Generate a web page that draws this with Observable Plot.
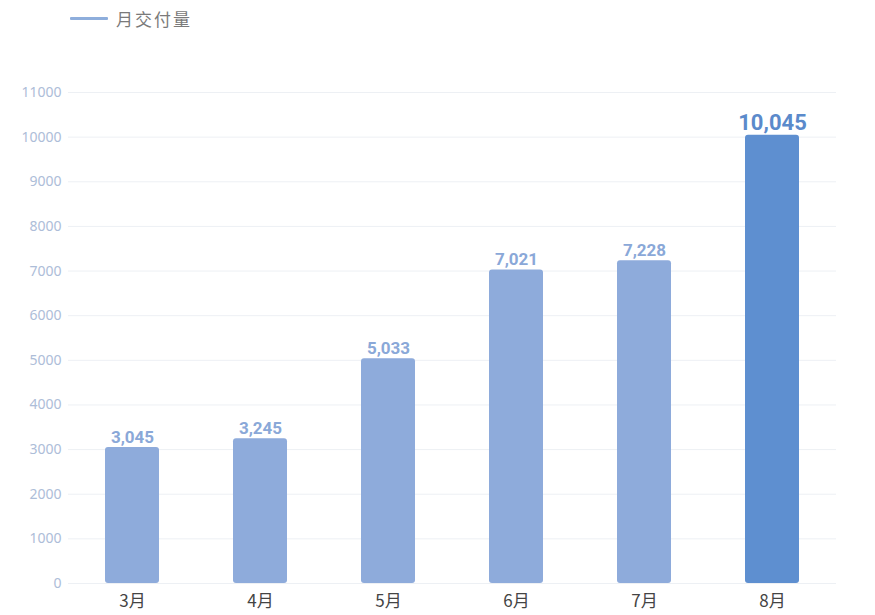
<!DOCTYPE html>
<html><head><meta charset="utf-8">
<script src="https://cdn.jsdelivr.net/npm/d3@7"></script>
<script src="https://cdn.jsdelivr.net/npm/@observablehq/plot@0.6"></script>
<style>
body{margin:0;background:#fff;font-family:"Noto Sans CJK SC","Noto Sans",sans-serif;}
#wrap{position:relative;width:875px;height:615px;}
#legend{position:absolute;left:70px;top:6px;display:flex;align-items:center;font-size:17px;letter-spacing:2px;color:#7a7a7a;}
#legend .sw{width:38px;height:3px;background:#8eaedc;margin-right:8px;border-radius:1px;}
#chart{position:absolute;left:0;top:0;}
</style></head>
<body>
<div id="wrap">
<div id="chart"></div>
<div id="legend"><span class="sw"></span><span>月交付量</span></div>
</div>
<script>
const months = ["3月","4月","5月","6月","7月","8月"];
const deliveries = [3045,3245,5033,7021,7228,10045];
const yTicks = [0,1000,2000,3000,4000,5000,6000,7000,8000,9000,10000,11000];
const highlightMonth = "8月";

const data = months.map((m,i)=>({month:m, value:deliveries[i]}));
const fmt = d3.format(",");

const chart = Plot.plot({
  width: 875, height: 615,
  marginTop: 92, marginBottom: 32, marginLeft: 68, marginRight: 39,
  style: {fontFamily: "'Noto Sans CJK SC','Noto Sans',sans-serif", background: "#fff"},
  x: {domain: months, paddingInner: 0.578, paddingOuter: 0.289, label: null},
  y: {domain: [0,11000], ticks: yTicks, label: null},
  marks: [
    Plot.gridY(yTicks, {stroke: "#edf0f4", strokeOpacity: 1, strokeWidth: 1}),
    Plot.barY(data, {x: "month", y: "value", fill: d => d.month === highlightMonth ? "#5e8fd0" : "#8eabdb", rx: 3}),
    Plot.text(data, {x: "month", y: "value", text: d => fmt(d.value), lineAnchor: "bottom", dy: -5,
      fontWeight: "bold", fontFamily: "Roboto, 'Noto Sans', sans-serif",
      fontSize: d => d.month === highlightMonth ? 22 : 17,
      fill: d => d.month === highlightMonth ? "#5b8acb" : "#8aa8d8"}),
    Plot.axisY({ticks: yTicks, tickSize: 0, tickPadding: 7, tickFormat: d => String(d), fontSize: 14, color: "#adbdd8", label: null, fontFamily: "'Noto Sans','Noto Sans CJK SC',sans-serif"}),
    Plot.axisX({tickSize: 0, tickPadding: 11, fontSize: 17, color: "#444", label: null})
  ]
});
document.getElementById("chart").appendChild(chart);
</script>
</body></html>
